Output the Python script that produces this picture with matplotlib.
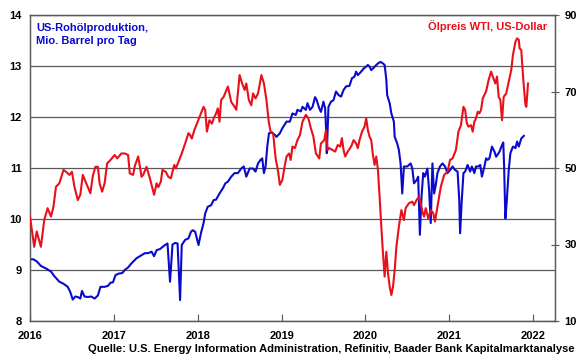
import matplotlib
matplotlib.use("Agg")
import matplotlib.pyplot as plt

plt.rcParams['font.family'] = ['Liberation Sans', 'DejaVu Sans']

# ---- data: US crude production (mio. barrel/day), weekly-ish readings ----
prod_t = [2016.00, 2016.04, 2016.08, 2016.13, 2016.19, 2016.25, 2016.29, 2016.35, 2016.40, 2016.45,
          2016.48, 2016.51, 2016.54, 2016.57, 2016.60, 2016.62, 2016.65, 2016.69, 2016.73, 2016.77,
          2016.81, 2016.84, 2016.89, 2016.93, 2016.96, 2016.99, 2017.02, 2017.06, 2017.10, 2017.13,
          2017.17, 2017.21, 2017.27, 2017.33, 2017.37, 2017.41, 2017.45, 2017.48, 2017.51, 2017.55,
          2017.61, 2017.64, 2017.67, 2017.70, 2017.73, 2017.76, 2017.79, 2017.81, 2017.85, 2017.89,
          2017.92, 2017.94, 2017.97, 2018.01, 2018.04, 2018.07, 2018.09, 2018.12, 2018.16, 2018.19,
          2018.22, 2018.26, 2018.30, 2018.33, 2018.36, 2018.40, 2018.44, 2018.48, 2018.52, 2018.55,
          2018.58, 2018.62, 2018.66, 2018.69, 2018.72, 2018.75, 2018.77, 2018.79, 2018.81, 2018.83,
          2018.85, 2018.88, 2018.92, 2018.94, 2018.98, 2019.01, 2019.06, 2019.10, 2019.13, 2019.17,
          2019.19, 2019.23, 2019.25, 2019.29, 2019.31, 2019.34, 2019.37, 2019.40, 2019.42, 2019.45,
          2019.47, 2019.50, 2019.52, 2019.53, 2019.54, 2019.56, 2019.59, 2019.62, 2019.65, 2019.68,
          2019.71, 2019.74, 2019.77, 2019.81, 2019.84, 2019.87, 2019.89, 2019.91, 2019.95, 2019.98,
          2020.01, 2020.03, 2020.05, 2020.07, 2020.09, 2020.13, 2020.15, 2020.18, 2020.21, 2020.23,
          2020.25, 2020.26, 2020.29, 2020.31, 2020.34, 2020.35, 2020.38, 2020.40, 2020.42, 2020.44,
          2020.46, 2020.50, 2020.54, 2020.56, 2020.58, 2020.61, 2020.63, 2020.65, 2020.67, 2020.69,
          2020.71, 2020.74, 2020.76, 2020.78, 2020.80, 2020.82, 2020.84, 2020.86, 2020.89, 2020.92,
          2020.95, 2020.98, 2021.01, 2021.04, 2021.07, 2021.10, 2021.12, 2021.13, 2021.15, 2021.17,
          2021.19, 2021.22, 2021.25, 2021.27, 2021.30, 2021.32, 2021.35, 2021.37, 2021.39, 2021.42,
          2021.44, 2021.46, 2021.48, 2021.51, 2021.54, 2021.56, 2021.60, 2021.63, 2021.645, 2021.655,
          2021.67, 2021.685, 2021.71, 2021.73, 2021.76, 2021.79, 2021.81, 2021.83, 2021.86, 2021.89]
prod_v = [9.21, 9.21, 9.17, 9.08, 9.03, 8.97, 8.88, 8.77, 8.73, 8.67,
          8.57, 8.42, 8.48, 8.47, 8.44, 8.59, 8.48, 8.47, 8.48, 8.44,
          8.50, 8.67, 8.67, 8.69, 8.75, 8.76, 8.90, 8.93, 8.94, 9.00,
          9.05, 9.13, 9.23, 9.29, 9.33, 9.33, 9.36, 9.27, 9.39, 9.41,
          9.49, 9.52, 8.77, 9.50, 9.53, 9.52, 8.41, 9.49, 9.59, 9.62,
          9.75, 9.78, 9.75, 9.49, 9.73, 9.92, 10.11, 10.24, 10.27, 10.37,
          10.38, 10.50, 10.60, 10.70, 10.73, 10.83, 10.90, 10.90, 10.99, 11.03,
          10.83, 10.99, 10.99, 10.93, 11.09, 11.16, 11.19, 10.90, 11.03, 11.42,
          11.68, 11.70, 11.65, 11.61, 11.68, 11.78, 11.91, 11.91, 12.07, 12.04,
          12.14, 12.11, 12.20, 12.14, 12.27, 12.14, 12.20, 12.39, 12.33, 12.17,
          12.10, 12.30, 12.17, 11.81, 11.29, 12.20, 12.30, 12.33, 12.50, 12.43,
          12.40, 12.53, 12.60, 12.61, 12.76, 12.79, 12.89, 12.82, 12.89, 12.95,
          12.99, 13.02, 12.99, 12.92, 12.95, 13.02, 13.05, 13.08, 13.05, 13.02,
          12.73, 12.43, 12.27, 12.07, 11.91, 11.61, 11.48, 11.35, 11.09, 10.50,
          11.03, 11.03, 11.09, 10.99, 10.70, 10.76, 10.83, 9.69, 10.44, 10.90,
          10.83, 10.99, 10.57, 9.92, 11.09, 10.50, 10.67, 10.90, 11.03, 11.09,
          11.03, 10.90, 10.96, 11.03, 10.96, 10.93, 10.37, 9.72, 10.37, 10.90,
          10.93, 11.06, 10.93, 11.03, 10.90, 11.03, 11.03, 11.06, 10.83, 11.03,
          11.19, 11.16, 11.19, 11.42, 11.32, 11.22, 11.32, 11.45, 11.50, 11.03,
          10.01, 10.31, 10.96, 11.29, 11.42, 11.39, 11.52, 11.42, 11.58, 11.63]

# ---- data: WTI oil price (US-Dollar) ----
wti_t = [2016.00, 2016.05, 2016.08, 2016.13, 2016.17, 2016.21, 2016.25, 2016.28, 2016.31, 2016.35,
         2016.40, 2016.43, 2016.47, 2016.50, 2016.53, 2016.57, 2016.60, 2016.63, 2016.67, 2016.69,
         2016.72, 2016.75, 2016.78, 2016.81, 2016.83, 2016.86, 2016.89, 2016.92, 2016.96, 2017.01,
         2017.04, 2017.09, 2017.13, 2017.17, 2017.19, 2017.23, 2017.25, 2017.29, 2017.31, 2017.33,
         2017.35, 2017.39, 2017.43, 2017.45, 2017.48, 2017.51, 2017.53, 2017.56, 2017.58, 2017.62,
         2017.65, 2017.68, 2017.72, 2017.74, 2017.77, 2017.81, 2017.85, 2017.89, 2017.91, 2017.93,
         2017.96, 2018.00, 2018.04, 2018.07, 2018.09, 2018.11, 2018.14, 2018.17, 2018.19, 2018.22,
         2018.24, 2018.26, 2018.28, 2018.31, 2018.36, 2018.40, 2018.44, 2018.46, 2018.50, 2018.53,
         2018.56, 2018.58, 2018.61, 2018.64, 2018.66, 2018.69, 2018.72, 2018.76, 2018.79, 2018.82,
         2018.85, 2018.87, 2018.90, 2018.93, 2018.96, 2018.98, 2019.01, 2019.04, 2019.06, 2019.09,
         2019.11, 2019.13, 2019.16, 2019.19, 2019.22, 2019.25, 2019.29, 2019.32, 2019.35, 2019.38,
         2019.41, 2019.45, 2019.47, 2019.51, 2019.53, 2019.55, 2019.57, 2019.61, 2019.64, 2019.67,
         2019.70, 2019.72, 2019.74, 2019.76, 2019.79, 2019.83, 2019.86, 2019.89, 2019.91, 2019.93,
         2019.96, 2019.99, 2020.01, 2020.03, 2020.05, 2020.07, 2020.09, 2020.11, 2020.13, 2020.15,
         2020.17, 2020.19, 2020.21, 2020.23, 2020.25, 2020.27, 2020.29, 2020.31, 2020.33, 2020.35,
         2020.37, 2020.40, 2020.43, 2020.46, 2020.48, 2020.52, 2020.56, 2020.58, 2020.61, 2020.64,
         2020.66, 2020.68, 2020.70, 2020.72, 2020.75, 2020.78, 2020.81, 2020.83, 2020.86, 2020.90,
         2020.94, 2020.98, 2021.01, 2021.04, 2021.08, 2021.11, 2021.14, 2021.17, 2021.19, 2021.21,
         2021.23, 2021.26, 2021.28, 2021.30, 2021.32, 2021.34, 2021.36, 2021.38, 2021.40, 2021.44,
         2021.47, 2021.50, 2021.52, 2021.55, 2021.57, 2021.59, 2021.61, 2021.63, 2021.65, 2021.68,
         2021.71, 2021.74, 2021.76, 2021.79, 2021.81, 2021.83, 2021.84, 2021.86, 2021.87, 2021.89,
         2021.91, 2021.92, 2021.94]
wti_v = [37.3, 29.4, 33.4, 29.4, 36.4, 39.5, 37.3, 39.9, 45.1, 46.0,
         49.5, 49.0, 48.2, 49.0, 45.1, 41.6, 43.0, 48.2, 46.0, 45.0,
         43.4, 48.0, 50.3, 50.3, 46.0, 43.8, 46.0, 51.2, 52.1, 53.4,
         52.5, 53.8, 53.8, 53.4, 48.6, 48.2, 50.5, 53.0, 50.5, 47.7,
         48.2, 50.3, 47.3, 45.6, 43.0, 46.0, 45.0, 46.4, 49.5, 49.0,
         47.7, 47.3, 50.8, 49.9, 51.6, 53.8, 56.4, 59.1, 58.6, 57.7,
         59.9, 62.1, 64.3, 66.0, 65.1, 59.5, 62.5, 61.6, 62.9, 64.3,
         65.6, 62.1, 67.8, 68.6, 71.3, 67.3, 66.0, 65.2, 74.3, 72.1,
         70.4, 72.1, 67.8, 66.4, 69.5, 68.2, 69.5, 74.3, 72.1, 67.8,
         61.7, 59.5, 59.1, 52.5, 49.0, 45.6, 46.9, 50.8, 53.0, 53.8,
         52.1, 55.6, 55.2, 57.3, 58.6, 62.1, 63.9, 63.0, 60.4, 58.2,
         53.8, 52.5, 56.4, 57.3, 59.9, 54.7, 55.2, 54.7, 54.3, 56.0,
         55.6, 57.8, 54.7, 53.0, 54.3, 55.6, 57.3, 56.4, 55.2, 57.3,
         59.5, 60.8, 63.0, 59.9, 58.2, 57.3, 53.4, 50.8, 53.0, 49.5,
         42.5, 34.7, 27.7, 21.6, 28.1, 22.5, 19.0, 16.8, 19.0, 23.3,
         29.4, 34.7, 39.0, 36.4, 39.5, 40.8, 41.2, 40.3, 41.6, 42.5,
         40.8, 38.6, 37.3, 39.5, 36.8, 39.0, 38.2, 36.0, 39.9, 45.1,
         48.2, 49.0, 52.1, 52.5, 54.7, 59.5, 61.2, 66.0, 65.2, 61.7,
         60.8, 61.2, 59.5, 62.1, 63.0, 64.7, 64.3, 65.2, 68.2, 70.0,
         73.0, 75.2, 73.9, 72.1, 73.9, 68.6, 67.8, 62.5, 68.6, 69.5,
         72.6, 75.6, 79.5, 83.0, 83.9, 83.5, 81.3, 80.8, 77.4, 71.3,
         66.5, 66.0, 72.1]

x_ticks = [2016, 2017, 2018, 2019, 2020, 2021, 2022]
left_ticks = [8, 9, 10, 11, 12, 13, 14]
right_ticks = [10, 30, 50, 70, 90]

label_prod = "US-Rohölproduktion,\nMio. Barrel pro Tag"
label_wti = "Ölpreis WTI, US-Dollar"
source = "Quelle: U.S. Energy Information Administration, Refinitiv, Baader Bank Kapitalmarktanalyse"

BLUE = "#0A0ACD"
RED = "#E8101A"
GRID = "#595959"

W, H = 580, 359
fig = plt.figure(figsize=(W / 100, H / 100), dpi=100)
ax = fig.add_axes([30 / W, 1 - 321 / H, 525 / W, 306 / H])
ax.set_xlim(2016, 2022 + 22 / 84)
ax.set_ylim(8, 14)
ax.set_xticks(x_ticks)
ax.set_xticklabels([str(t) for t in x_ticks])
ax.set_yticks(left_ticks)
ax.set_yticklabels([str(t) for t in left_ticks])
ax.grid(axis='y', color=GRID, lw=0.9)
ax.set_axisbelow(True)
for s in ax.spines.values():
    s.set_color(GRID)
    s.set_linewidth(0.9)
ax.tick_params(axis='y', length=0, pad=6, labelsize=8)
ax.tick_params(axis='x', direction='in', length=5, color=GRID, pad=7, labelsize=8)
for lab in ax.get_xticklabels() + ax.get_yticklabels():
    lab.set_fontweight('bold')

ax.plot(prod_t, prod_v, color=BLUE, lw=1.5, solid_joinstyle='round', zorder=3)

ax2 = ax.twinx()
ax2.set_ylim(10, 90)
ax2.set_yticks(right_ticks)
ax2.set_yticklabels([str(t) for t in right_ticks])
ax2.tick_params(axis='y', direction='inout', length=6, color=GRID, pad=4, labelsize=8)
for lab in ax2.get_yticklabels():
    lab.set_fontweight('bold')
for s in ax2.spines.values():
    s.set_color(GRID)
    s.set_linewidth(0.9)
ax2.plot(wti_t, wti_v, color=RED, lw=1.5, solid_joinstyle='round', zorder=3)

fig.text(36 / W, 1 - 43.5 / H, label_prod, color=BLUE, fontsize=8, fontweight='bold',
         ha='left', va='baseline', linespacing=1.35, multialignment='left')
fig.text(547 / W, 1 - 30 / H, label_wti, color=RED, fontsize=8, fontweight='bold',
         ha='right', va='baseline')
fig.text(575 / W, 1 - 352 / H, source, color='black', fontsize=8.05, fontweight='bold',
         ha='right', va='baseline', family=['Liberation Sans Narrow', 'Liberation Sans'])

fig.savefig("out.png", dpi=100)
